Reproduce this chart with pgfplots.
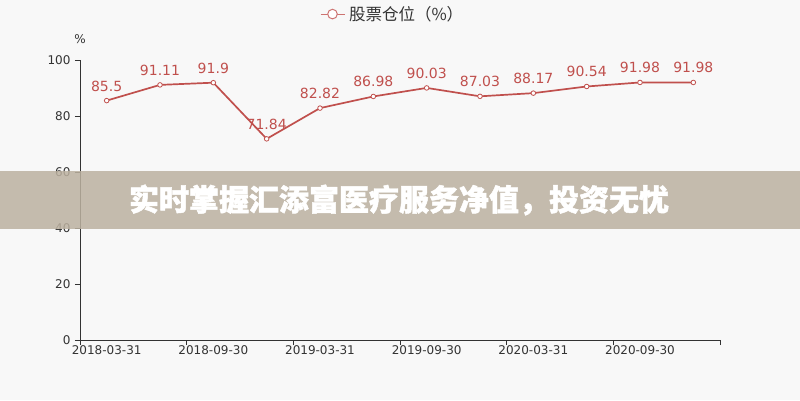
\documentclass[border=0pt]{standalone}
\usepackage{pgfplots}
\pgfplotsset{compat=1.18}
\usepackage{fontspec}
\setmainfont{DejaVu Sans}
\newfontfamily\cjk{Noto Sans CJK SC}
\newfontfamily\cjkheavy[BoldFeatures={FakeBold=1.5}]{Noto Sans CJK SC}

\definecolor{bg}{RGB}{248,248,248}
\definecolor{linered}{RGB}{192,80,77}
\definecolor{axisgray}{RGB}{51,51,51}
\definecolor{banner}{RGB}{188,177,160}

\begin{document}
\begin{tikzpicture}
\fill[bg] (0pt,0pt) rectangle (800pt,400pt);
\begin{axis}[
  at={(80pt,60pt)}, anchor=south west,
  scale only axis,
  width=640pt, height=280pt,
  xmin=-0.5, xmax=11.5,
  ymin=0, ymax=100,
  axis lines*=left,
  axis line style={axisgray, line width=0.8pt},
  tick align=outside,
  major tick length=5pt,
  tick style={axisgray, line width=0.8pt},
  ytick={0,20,...,100},
  xtick={-0.5,1.5,...,11.5},
  xticklabels={},
  extra x ticks={0,2,4,6,8,10},
  extra x tick labels={2018-03-31,2018-09-30,2019-03-31,2019-09-30,2020-03-31,2020-09-30},
  extra x tick style={major tick length=0pt},
  ticklabel style={font=\fontsize{12pt}{14pt}\selectfont, text=axisgray},
  xticklabel style={yshift=-2pt},
  yticklabel style={xshift=-1pt},
  /pgf/number format/assume math mode=true,
  legend style={at={(0.49,1.164)}, anchor=center, draw=none, fill=none,
    font=\cjk\fontsize{16.5pt}{18pt}\selectfont, text=axisgray,
    nodes={inner sep=4pt}},
  legend image code/.code={
    \draw[linered!80, line width=1pt] (0pt,0pt) -- (24pt,0pt);
    \draw[linered!80, line width=1pt, fill=white] (12pt,0pt) circle (4.8pt);
  },
  nodes near coords,
  every node near coord/.append style={font=\fontsize{14pt}{16pt}\selectfont,
    text=linered, inner sep=0pt, anchor=south, yshift=9pt},
  clip=false,
]
\addplot[linered, line width=1.7pt, mark=*, mark size=2.3pt,
  mark options={fill=white, draw=linered, line width=0.8pt}]
coordinates {
  (0,85.5) (1,91.11) (2,91.9) (3,71.84) (4,82.82) (5,86.98)
  (6,90.03) (7,87.03) (8,88.17) (9,90.54) (10,91.98) (11,91.98)
};
\addlegendentry{股票仓位（\%）}
\node[font=\fontsize{12pt}{14pt}\selectfont, text=axisgray] at (rel axis cs:0,1) [yshift=21pt] {\%};
\end{axis}
\fill[banner, opacity=0.85] (0pt,171pt) rectangle (800pt,229pt);
\node[text=white, font=\cjkheavy\bfseries\fontsize{30pt}{32pt}\selectfont] at (399pt,200pt) {实时掌握汇添富医疗服务净值，投资无忧};
\end{tikzpicture}
\end{document}
